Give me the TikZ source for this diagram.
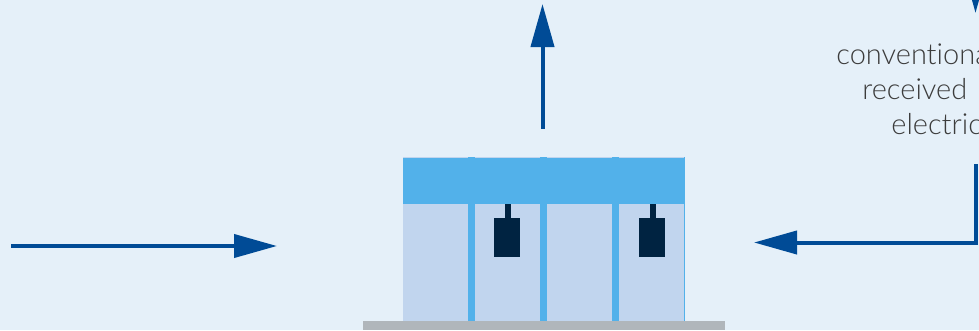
\documentclass[tikz,border=0pt]{standalone}
\usepackage{fontspec}
\setmainfont[Ligatures=NoCommon]{Lato Light}
\usetikzlibrary{arrows.meta}
\definecolor{pagebg}{HTML}{E5F0F9}
\definecolor{roofblue}{HTML}{52B1EA}
\definecolor{panelblue}{HTML}{C1D5EE}
\definecolor{navy}{HTML}{002341}
\definecolor{flowblue}{HTML}{004B96}
\definecolor{floorgray}{HTML}{B0B6BB}
\definecolor{labelgray}{HTML}{3C3C3C}
\tikzset{
  flow/.style={draw=flowblue,line width=0.08cm,-{Triangle[length=0.86cm,width=0.46cm]}},
  flowlabel/.style={anchor=base west,inner sep=0pt,text=labelgray,font=\fontsize{16.5}{20}\selectfont},
}
\begin{document}
\begin{tikzpicture}[x=1cm,y=1cm]
  \useasboundingbox (0,0) rectangle (19.58,6.6);
  \clip (0,0) rectangle (19.58,6.6);
  \fill[pagebg] (0,0) rectangle (19.58,6.6);
  % hall
  \fill[panelblue] (8.06,0.18) rectangle (13.70,3.46);
  \fill[roofblue] (8.06,2.52) rectangle (13.70,3.44);
  \foreach \x in {9.36,10.80,12.24} {
    \fill[roofblue] (\x,0.18) rectangle (\x+0.14,3.46);
  }
  \fill[roofblue] (13.68,0.18) rectangle (13.70,3.46);
  \foreach \x in {9.88,12.78} {
    \fill[navy] (\x,1.46) rectangle (\x+0.52,2.24);
    \fill[navy] (\x+0.22,2.24) rectangle (\x+0.33,2.52);
  }
  \fill[floorgray] (7.26,0) rectangle (14.50,0.18);
  % arrows
  \coordinate (upstart) at (10.85,4.03);
  \coordinate (uptip) at (10.85,6.52);
  \coordinate (leftstart) at (0.22,1.68);
  \coordinate (lefttip) at (5.54,1.68);
  \coordinate (rightstart) at (19.51,3.32);
  \coordinate (rightcorner) at (19.51,1.75);
  \coordinate (righttip) at (15.08,1.75);
  \coordinate (topstart) at (19.51,7.60);
  \coordinate (toptip) at (19.51,6.34);
  \draw[flow] (upstart) -- (uptip);
  \draw[flow] (leftstart) -- (lefttip);
  \draw[flow] (rightstart) -- (rightcorner) -- (righttip);
  \draw[flow] (topstart) -- (toptip);
  % clipped label
  \node[flowlabel] (labela) at (16.72,5.32) {conventional};
  \node[flowlabel] (labelb) at (17.24,4.62) {received};
  \node[flowlabel] (labelc) at (17.82,3.92) {electric};
\end{tikzpicture}
\end{document}
